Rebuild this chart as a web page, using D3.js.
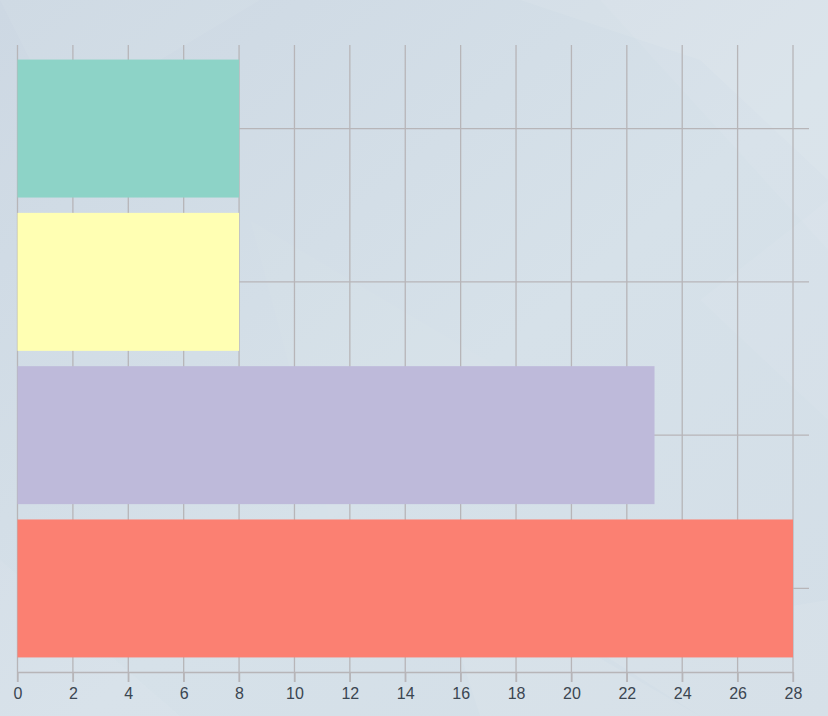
<!DOCTYPE html>
<html><head><meta charset="utf-8">
<script src="https://cdn.jsdelivr.net/npm/d3@7"></script>
<style>html,body{margin:0;padding:0;overflow:hidden;}svg{display:block;}</style>
</head><body>
<svg id="chart" width="828" height="716"></svg>
<script>
const categories = ["A", "B", "C", "D"];
const values = [8, 8, 23, 28];
const colors = ["#8dd3c7", "#ffffb3", "#bebada", "#fb8072"];
const xTicks = [0, 2, 4, 6, 8, 10, 12, 14, 16, 18, 20, 22, 24, 26, 28];

const W = 828, H = 716;
const svg = d3.select("#chart");

// background
const defs = svg.append("defs");
const g1 = defs.append("linearGradient").attr("id", "bg").attr("x1", "0").attr("y1", "0").attr("x2", "1").attr("y2", "1");
g1.append("stop").attr("offset", "0").attr("stop-color", "#cdd8e3");
g1.append("stop").attr("offset", "0.55").attr("stop-color", "#d6e1e9");
g1.append("stop").attr("offset", "1").attr("stop-color", "#d3dee7");
svg.append("rect").attr("width", W).attr("height", H).attr("fill", "url(#bg)");
const facets = [
  [[0,0],[260,0],[60,120]],
  [[520,0],[828,0],[828,180],[700,60]],
  [[600,0],[828,250],[828,0]],
  [[0,560],[180,716],[0,716]],
  [[430,560],[700,716],[480,716]],
  [[580,640],[828,600],[828,716],[700,716]],
  [[250,220],[520,380],[330,520]],
  [[700,300],[828,200],[828,420]]
];
const facetOp = [0.06,0.08,0.05,0.05,0.07,0.08,0.03,0.05];
svg.append("g").selectAll("path").data(facets).join("path")
  .attr("d", d => "M" + d.join("L") + "Z")
  .attr("fill", "#ffffff").attr("opacity", (d,i) => facetOp[i]);

const x0 = 17.5, x1 = 793, yTop = 45, yBot = 672;
const x = d3.scaleLinear().domain([0, 28]).range([x0, x1]);
const y = d3.scaleBand().domain(categories).range([yTop, yBot]).paddingInner(0.1).paddingOuter(0.095);

const grid = "#b7b5b8";
// vertical grid lines
svg.append("g").selectAll("line").data(xTicks).join("line")
  .attr("x1", d => x(d)).attr("x2", d => x(d))
  .attr("y1", yTop).attr("y2", yBot + 10)
  .attr("stroke", grid).attr("stroke-width", 1.3);
// horizontal lines at band centres
svg.append("g").selectAll("line").data(categories).join("line")
  .attr("x1", x0).attr("x2", 809)
  .attr("y1", d => y(d) + y.bandwidth()/2).attr("y2", d => y(d) + y.bandwidth()/2)
  .attr("stroke", grid).attr("stroke-width", 1.3);

// bars
svg.append("g").selectAll("rect").data(categories).join("rect")
  .attr("x", x(0))
  .attr("y", d => y(d))
  .attr("width", (d,i) => x(values[i]) - x(0))
  .attr("height", y.bandwidth())
  .attr("fill", (d,i) => colors[i]);

// x axis
const axis = svg.append("g").attr("transform", `translate(0,${yBot})`)
  .call(d3.axisBottom(x).tickValues(xTicks).tickSize(10).tickFormat(d3.format("d")));
axis.select(".domain").attr("stroke", grid).attr("stroke-width", 1.3).attr("d", `M${x0},0.5H${x1}`);
axis.selectAll(".tick line").attr("stroke", grid).attr("stroke-width", 1.3);
axis.selectAll(".tick text").attr("fill", "#3b4651").attr("font-size", "16px")
  .attr("font-family", "'Liberation Sans', Arial, sans-serif").attr("dy", "0.71em").attr("y", 16);
</script>
</body></html>
